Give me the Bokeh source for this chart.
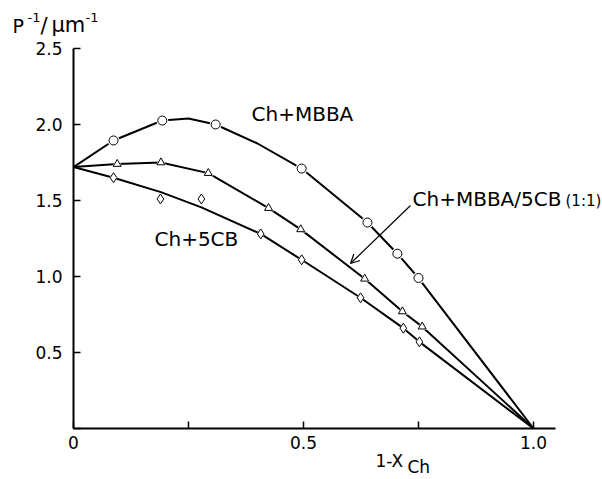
from bokeh.plotting import figure
from bokeh.models import Range1d, FixedTicker, Label, Arrow, OpenHead, LinearAxis
from bokeh.embed import file_html
from bokeh.resources import INLINE

# ---- data ----
mbba_x = [0.087, 0.193, 0.309, 0.496, 0.639, 0.704, 0.750]
mbba_y = [1.895, 2.026, 2.000, 1.710, 1.355, 1.150, 0.990]
mbba_curve_x = [0.0, 0.087, 0.193, 0.250, 0.309, 0.400, 0.496, 0.639, 0.704, 0.750, 1.0]
mbba_curve_y = [1.72, 1.895, 2.026, 2.040, 2.000, 1.875, 1.710, 1.355, 1.150, 0.990, 0.0]

mix_x = [0.095, 0.190, 0.293, 0.424, 0.494, 0.633, 0.715, 0.758]
mix_y = [1.740, 1.750, 1.680, 1.450, 1.310, 0.985, 0.770, 0.670]
mix_curve_x = [0.0, 0.095, 0.190, 0.293, 0.424, 0.494, 0.633, 0.715, 0.758, 1.0]
mix_curve_y = [1.72, 1.740, 1.750, 1.680, 1.450, 1.310, 0.985, 0.770, 0.670, 0.0]

cb_x = [0.087, 0.189, 0.278, 0.407, 0.496, 0.624, 0.717, 0.752]
cb_y = [1.650, 1.510, 1.510, 1.280, 1.110, 0.860, 0.660, 0.570]
cb_curve_x = [0.0, 0.087, 0.190, 0.278, 0.407, 0.496, 0.624, 0.717, 0.752, 1.0]
cb_curve_y = [1.72, 1.650, 1.555, 1.455, 1.280, 1.110, 0.860, 0.660, 0.570, 0.0]

x_ticks = [0, 0.25, 0.5, 0.75, 1.0]
x_tick_labels = ["0", "", "0.5", "", "1.0"]
y_ticks = [0, 0.5, 1.0, 1.5, 2.0, 2.5]
y_tick_labels = ["", "0.5", "1.0", "1.5", "2.0", "2.5"]

FONT = "DejaVu Sans"

W, H = 602, 479
X0, XS = 73.0, 460.0   # pixel of x=0, pixels per unit x
Y0, YS = 428.0, 152.0  # pixel of y=0, pixels per unit y


def px_x(px):
    return (px - X0) / XS


def px_y(py):
    return (Y0 - py) / YS


p = figure(width=W, height=H, output_backend="svg", toolbar_location=None,
           x_range=Range1d(px_x(0), px_x(W)), y_range=Range1d(px_y(H), px_y(0)),
           x_axis_location=None, y_axis_location=None,
           min_border=0, min_border_left=0, min_border_right=0,
           min_border_top=0, min_border_bottom=0)
p.outline_line_color = None
p.xgrid.visible = False
p.ygrid.visible = False
p.background_fill_color = "white"
p.border_fill_color = "white"

xax = LinearAxis(fixed_location=0, bounds=(0, 1.048),
                 ticker=FixedTicker(ticks=x_ticks),
                 major_label_overrides={t: l for t, l in zip(x_ticks, x_tick_labels)},
                 major_label_standoff=7)
yax = LinearAxis(fixed_location=0, bounds=(0, 2.5),
                 ticker=FixedTicker(ticks=y_ticks),
                 major_label_overrides={t: l for t, l in zip(y_ticks, y_tick_labels)},
                 major_label_standoff=11)
for ax in (xax, yax):
    ax.axis_line_width = 2
    ax.axis_line_color = "black"
    ax.major_tick_in = 7
    ax.major_tick_out = 0
    ax.major_tick_line_width = 1.5
    ax.minor_tick_line_color = None
    ax.major_label_text_font = FONT
    ax.major_label_text_font_size = "17px"
    ax.major_label_text_color = "black"
p.add_layout(xax, "below")
p.add_layout(yax, "left")

# curves
for cx, cy in ((mbba_curve_x, mbba_curve_y), (mix_curve_x, mix_curve_y), (cb_curve_x, cb_curve_y)):
    p.line(cx, cy, line_color="black", line_width=2)

# white halos to break the lines at markers, then open markers
p.scatter(mbba_x, mbba_y, marker="circle", size=12, fill_color="white", line_color=None)
p.scatter(mbba_x, mbba_y, marker="circle", size=9, fill_color="white", line_color="black", line_width=1)
p.scatter(mix_x, mix_y, marker="triangle", size=11, fill_color="white", line_color=None)
p.scatter(mix_x, mix_y, marker="triangle", size=8, fill_color="white", line_color="black", line_width=1)
p.scatter(cb_x, cb_y, marker="diamond", size=12, fill_color="white", line_color=None)
p.scatter(cb_x, cb_y, marker="diamond", size=10, fill_color="white", line_color="black", line_width=1)

K = 0.45  # correction: Bokeh's alphabetic baseline lands lower than asked


def lab(text, x, base, size, font=FONT):
    py = base - K * size
    p.add_layout(Label(x=px_x(x), y=px_y(py), text=text, text_font=font,
                       text_font_size="%dpx" % size, text_color="black",
                       text_align="left", text_baseline="alphabetic"))


# series annotations
lab("Ch+MBBA", 251, 122, 20)
lab("Ch+5CB", 154, 247, 20)
lab("Ch+MBBA/5CB", 412, 207, 20)
lab("(1:1)", 565, 207, 15)

p.add_layout(Arrow(x_start=px_x(410), y_start=px_y(205), x_end=px_x(350), y_end=px_y(263),
                   line_color="black", line_width=1.2,
                   end=OpenHead(size=9, line_color="black", line_width=1.2)))

# y-axis title  P^-1/um^-1
lab("P", 12, 34, 19)
lab("-1", 27, 23, 13)
lab("/", 40, 35, 21)
lab("\u03bcm", 51, 34, 21)
lab("-1", 85, 23, 13)

# x-axis title 1-X_Ch
lab("1-X", 375, 468, 17)
lab("Ch", 407, 474, 17)

open("out.html", "w").write(file_html(p, INLINE))
